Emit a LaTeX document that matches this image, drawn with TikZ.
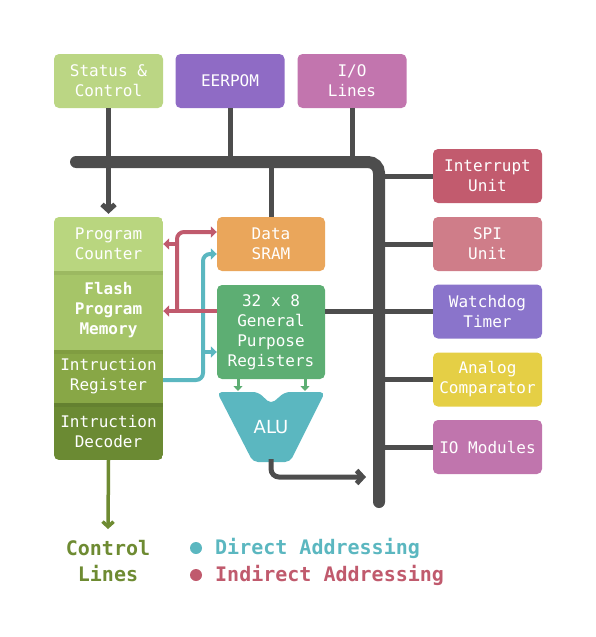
\documentclass[tikz,border=0pt]{standalone}
\usepackage{fontspec}
\setmainfont{DejaVu Sans Mono}
\newfontfamily\alufont{DejaVu Sans}
\usetikzlibrary{arrows.meta}
\definecolor{cStatus}{HTML}{BBD684}
\definecolor{cEep}{HTML}{8F6BC5}
\definecolor{cIO}{HTML}{C275AE}
\definecolor{cInt}{HTML}{C25B6E}
\definecolor{cSPI}{HTML}{CF7D89}
\definecolor{cWd}{HTML}{8A74CB}
\definecolor{cAn}{HTML}{E5CF45}
\definecolor{cIOM}{HTML}{C075AD}
\definecolor{cSram}{HTML}{EAA65B}
\definecolor{cReg}{HTML}{5DAE73}
\definecolor{cAlu}{HTML}{5BB7C0}
\definecolor{cPC}{HTML}{B9D67F}
\definecolor{cFlash}{HTML}{A6C568}
\definecolor{cIR}{HTML}{88A746}
\definecolor{cDec}{HTML}{6B8A33}
\definecolor{cGray}{HTML}{4D4D4D}
\definecolor{cTeal}{HTML}{5BB7C0}
\definecolor{cRed}{HTML}{C05A6D}
\definecolor{cOlive}{HTML}{6E8B32}
\tikzset{
  box/.style={rounded corners=5pt, text=white, align=center, inner sep=0pt,
    minimum width=109pt, minimum height=54pt, font=\fontsize{16}{20}\selectfont},
  seg/.style={text=white, align=center, inner sep=0pt, minimum width=109pt,
    font=\fontsize{16}{20}\selectfont},
  busline/.style={draw=cGray, line width=12pt, line cap=round, rounded corners=11pt},
  conn/.style={draw=cGray, line width=5pt},
  garrow/.style={draw=cGray, line width=5pt, line cap=round,
    -{Straight Barb[length=6pt,width=13pt,line width=5pt]}},
  tarrow/.style={line width=4pt, rounded corners=7pt,
    -{Triangle[length=6pt,width=11pt]}},
  legend/.style={font=\fontsize{20}{26}\selectfont\bfseries, inner sep=0pt},
}
\begin{document}
\begin{tikzpicture}[x=1pt,y=-1pt]
\useasboundingbox (0,0) rectangle (596,637);

% top boxes
\node[box, fill=cStatus] (status) at (108.5,81) {Status \&\\Control};
\node[box, fill=cEep] (eep) at (230,81) {EERPOM};
\node[box, fill=cIO] (io) at (352,81) {I/O\\Lines};

% right boxes
\node[box, fill=cInt] (intr) at (487.5,176) {Interrupt\\Unit};
\node[box, fill=cSPI] (spi) at (487.5,244) {SPI\\Unit};
\node[box, fill=cWd] (wd) at (487.5,311.5) {Watchdog\\Timer};
\node[box, fill=cAn] (an) at (487.5,379.5) {Analog\\Comparator};
\node[box, fill=cIOM] (iom) at (487.5,447) {IO Modules};

% middle boxes
\node[box, fill=cSram, minimum width=108pt] (sram) at (271,244) {Data\\SRAM};
\node[box, fill=cReg, minimum width=108pt, minimum height=94pt] (regs) at (271,332) {32 x 8\\General\\Purpose\\Registers};

% bus
\coordinate (busL) at (76,162);
\coordinate (busC) at (379,162);
\coordinate (busB) at (379,502);
\draw[busline] (busL) -- (busC) -- (busB);

% connectors to bus
\draw[conn] (eep.south) -- (eep.south |- busC);
\draw[conn] (io.south) -- (io.south |- busC);
\draw[conn] (sram.north) -- (sram.north |- busC);
\foreach \n in {intr,spi,an,iom}{
  \draw[conn] (\n.west) -- (\n.west -| busC);
}
\draw[conn] (wd.west) -- (wd.west -| regs.east);

% left column
\begin{scope}
  \clip[rounded corners=5pt] (54,217) rectangle (163,460);
  \fill[cPC] (54,217) rectangle (163,271);
  \fill[cFlash] (54,271) rectangle (163,350);
  \fill[cIR] (54,350) rectangle (163,403);
  \fill[cDec] (54,403) rectangle (163,460);
  \fill[black, opacity=0.06] (54,271) rectangle (163,275);
  \fill[black, opacity=0.06] (54,350) rectangle (163,354);
  \fill[black, opacity=0.06] (54,403) rectangle (163,407);
\end{scope}
\node[seg, minimum height=54pt] (pc) at (108.5,244) {Program\\Counter};
\node[seg, minimum height=79pt, font=\fontsize{16}{20}\selectfont\bfseries] (flash) at (108.5,310.5) {Flash\\Program\\Memory};
\node[seg, minimum height=53pt] (ir) at (108.5,376.5) {Intruction\\Register};
\node[seg, minimum height=57pt] (dec) at (108.5,431.5) {Intruction\\Decoder};

% status -> program counter arrow
\draw[conn] (status.south) -- (status.south |- busC);
\draw[garrow, shorten >=3pt] (status.south |- busC) -- (pc.north);

% ALU
\fill[cAlu, rounded corners=5pt] (217,392) -- (258,392) -- (271,404) -- (285,392) -- (325,392) -- (290,462) -- (253,462) -- cycle;
\node[font=\alufont\fontsize{18}{20}\selectfont, text=white, inner sep=0pt] (alu) at (271,427) {ALU};
\coordinate (aluout) at (271,459);
\coordinate (aluend) at (366,477);
\draw[draw=cGray, line width=5pt, rounded corners=8pt,
  -{Straight Barb[length=6pt,width=13pt,line width=5pt]}] (aluout) |- (aluend);

% register -> ALU arrows
\draw[draw=cReg, line width=3pt, -{Triangle[length=5pt,width=9pt]}] (238,379) -- (238,391);
\draw[draw=cReg, line width=3pt, -{Triangle[length=5pt,width=9pt]}] (305,379) -- (305,391);

% teal (direct addressing)
\coordinate (tealA) at (163,380);
\coordinate (tealB) at (203,352);
\draw[tarrow, draw=cTeal] (tealA) -| (203,254) -- (sram.west |- 0,254);
\draw[tarrow, draw=cTeal] (tealB) -- (regs.west |- tealB);

% red (indirect addressing)
\coordinate (redA) at (177,311);
\coordinate (redB) at (177,244);
\draw[tarrow, draw=cRed] (regs.west |- redA) -- (flash.east |- redA);
\draw[tarrow, draw=cRed] (redA) |- (sram.west |- 0,232);
\draw[tarrow, draw=cRed] (redB) -- (pc.east |- redB);

% control lines
\node[legend, text=cOlive, align=center] (ctrl) at (108,561) {Control\\Lines};
\draw[draw=cOlive, line width=3.5pt, -{Straight Barb[length=5pt,width=11pt,line width=3.5pt]}] (dec.south) -- (108,529);

% legend
\node[circle, fill=cTeal, inner sep=0pt, minimum size=12pt] (dotD) at (196,548) {};
\node[circle, fill=cRed, inner sep=0pt, minimum size=12pt] (dotI) at (196,575) {};
\node[legend, text=cTeal, anchor=west] (txtD) at (215,548) {Direct Addressing};
\node[legend, text=cRed, anchor=west] (txtI) at (215,575) {Indirect Addressing};
\end{tikzpicture}
\end{document}
